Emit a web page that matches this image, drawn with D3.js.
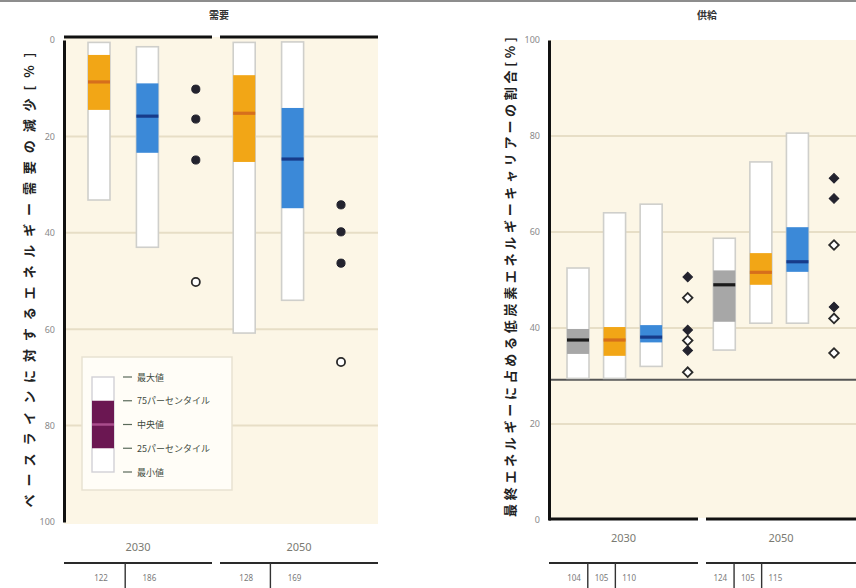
<!DOCTYPE html>
<html>
<head>
<meta charset="utf-8">
<script src="https://cdn.jsdelivr.net/npm/d3@7"></script>
<style>
  body { margin: 0; background: #ffffff; }
  svg { display: block; font-family: "Noto Sans CJK JP", "Noto Sans", sans-serif; }
</style>
</head>
<body>
<svg id="chart" width="856" height="588"></svg>
<script>
// ---- shared ----
const years = ["2030", "2050"];
const yTicks = [0, 20, 40, 60, 80, 100];
const legendLabels = ["最大値", "75パーセンタイル", "中央値", "25パーセンタイル", "最小値"];

// ---- demand panel: reduction relative to baseline [%] ----
const demandSeries = ["A", "B"];
const demandBoxYear = ["2030", "2030", "2050", "2050"];
const demandBoxSeries = ["A", "B", "A", "B"];
const demandMin = [0.5, 1.4, 0.5, 0.4];
const demandQ1 = [3.1, 9.0, 7.3, 14.1];
const demandMedian = [8.7, 15.8, 15.2, 24.7];
const demandQ3 = [14.5, 23.4, 25.3, 34.9];
const demandMax = [33.2, 43.0, 60.8, 54.0];
const demandN = ["122", "186", "128", "169"];
const demandPointYear = ["2030", "2030", "2030", "2030", "2050", "2050", "2050", "2050"];
const demandPointValue = [10.2, 16.4, 24.9, 50.2, 34.2, 39.8, 46.3, 66.8];
const demandPointFilled = [true, true, true, false, true, true, true, false];

// ---- supply panel: low-carbon carrier share of final energy [%] ----
const supplySeries = ["G", "A", "B"];
const supplyBoxYear = ["2030", "2030", "2030", "2050", "2050", "2050"];
const supplyBoxSeries = ["G", "A", "B", "G", "A", "B"];
const supplyMin = [29.5, 29.5, 32.0, 35.4, 41.0, 41.0];
const supplyQ1 = [34.6, 34.2, 37.0, 41.3, 49.0, 51.7];
const supplyMedian = [37.5, 37.5, 38.1, 49.0, 51.6, 53.8];
const supplyQ3 = [39.8, 40.2, 40.6, 52.0, 55.6, 61.0];
const supplyMax = [52.5, 64.0, 65.8, 58.7, 74.6, 80.6];
const supplyN = ["104", "105", "110", "124", "105", "115"];
const supplyPointYear = ["2030", "2030", "2030", "2030", "2030", "2030", "2050", "2050", "2050", "2050", "2050", "2050"];
const supplyPointValue = [50.6, 46.3, 39.6, 37.4, 35.3, 30.8, 71.2, 67.0, 57.3, 44.4, 42.0, 34.8];
const supplyPointFilled = [true, false, true, false, true, false, true, true, false, true, false, false];
const supplyReference = 29.2;

// ---- styles ----
const seriesFill = { A: "#f2a616", B: "#3b89d8", G: "#a7a7a7" };
const seriesMedian = { A: "#d66f1c", B: "#173b8a", G: "#1b1b1b" };
const plotBg = "#fcf6e6";
const gridColor = "#e7dec6";
const boxWidth = 22;

const svg = d3.select("#chart");

// thin frame line along the top of the page
svg.append("rect").attr("x", 0).attr("y", 0).attr("width", 856).attr("height", 2).attr("fill", "#8d8d8d");

function drawPanel(p) {
  const g = svg.append("g");
  const slots = [];
  years.forEach(yr => { p.series.forEach(s => slots.push(yr + "|" + s)); slots.push(yr + "|pts"); });
  const x = d3.scalePoint().domain(slots).range(p.slotRange);
  const y = d3.scaleLinear().domain([0, 100]).range(p.yRange);

  // background + grid
  g.append("rect").attr("x", p.left).attr("y", p.bgTop).attr("width", p.right - p.left)
    .attr("height", p.bgBottom - p.bgTop).attr("fill", plotBg);
  g.selectAll(".grid").data(yTicks.filter(t => t > 0 && t < 100)).join("line")
    .attr("x1", p.left).attr("x2", p.right).attr("y1", d => y(d)).attr("y2", d => y(d))
    .attr("stroke", gridColor).attr("stroke-width", 2);

  // year boundary between groups
  const gapX = (x(years[0] + "|pts") + x(years[1] + "|" + p.series[0])) / 2 - 4;
  const yearSpans = [[p.left, gapX - 4], [gapX + 4, p.right]];

  // reference line (supply panel)
  if (p.reference != null) {
    g.append("line").attr("x1", p.left).attr("x2", p.right)
      .attr("y1", y(p.reference)).attr("y2", y(p.reference))
      .attr("stroke", "#555").attr("stroke-width", 2);
  }

  // boxes
  const boxes = p.boxYear.map((yr, i) => ({
    key: yr + "|" + p.boxSeries[i], s: p.boxSeries[i],
    min: p.min[i], q1: p.q1[i], med: p.median[i], q3: p.q3[i], max: p.max[i]
  }));
  const bg = g.selectAll(".box").data(boxes).join("g");
  bg.append("rect")
    .attr("x", d => x(d.key) - boxWidth / 2).attr("width", boxWidth)
    .attr("y", d => Math.min(y(d.min), y(d.max))).attr("height", d => Math.abs(y(d.max) - y(d.min)))
    .attr("fill", "#ffffff").attr("stroke", "#cfcfcb").attr("stroke-width", 1.6);
  bg.append("rect")
    .attr("x", d => x(d.key) - boxWidth / 2).attr("width", boxWidth)
    .attr("y", d => Math.min(y(d.q1), y(d.q3))).attr("height", d => Math.abs(y(d.q3) - y(d.q1)))
    .attr("fill", d => seriesFill[d.s]);
  bg.append("line")
    .attr("x1", d => x(d.key) - boxWidth / 2).attr("x2", d => x(d.key) + boxWidth / 2)
    .attr("y1", d => y(d.med)).attr("y2", d => y(d.med))
    .attr("stroke", d => seriesMedian[d.s]).attr("stroke-width", 3.2);

  // individual study points
  const pts = p.pointYear.map((yr, i) => ({ key: yr + "|pts", v: p.pointValue[i], filled: p.pointFilled[i] }));
  const sym = d3.symbol().type(p.symbol).size(p.symbolSize);
  g.selectAll(".pt").data(pts).join("path")
    .attr("transform", d => `translate(${x(d.key)},${y(d.v)}) rotate(${p.symbolRotate})`)
    .attr("d", sym)
    .attr("fill", d => d.filled ? "#23232e" : "#ffffff")
    .attr("stroke", d => d.filled ? "#23232e" : "#2a2a2a")
    .attr("stroke-width", d => d.filled ? 1 : 1.8);

  // y axis
  const ax = g.append("g").attr("transform", `translate(${p.left},0)`)
    .call(d3.axisLeft(y).tickValues(yTicks).tickSize(0).tickPadding(9).tickSizeOuter(0));
  ax.select(".domain").attr("stroke", "#111").attr("stroke-width", 3);
  ax.selectAll("text").attr("fill", "#8a8a8a").attr("font-size", 9).attr("font-family", "Noto Sans, sans-serif");

  // year-segmented frame line (top for demand, bottom for supply)
  g.selectAll(".yrline").data(yearSpans).join("line")
    .attr("x1", d => d[0]).attr("x2", d => d[1])
    .attr("y1", p.frameY).attr("y2", p.frameY)
    .attr("stroke", "#111").attr("stroke-width", 3);

  // year labels
  g.selectAll(".yr").data(years).join("text")
    .attr("x", (d, i) => (yearSpans[i][0] + yearSpans[i][1]) / 2)
    .attr("y", p.yearLabelY).attr("text-anchor", "middle")
    .attr("fill", "#7a7a72").attr("font-size", 11).attr("font-family", "Noto Sans, sans-serif")
    .text(d => d);

  // scenario count row
  g.selectAll(".nline").data(yearSpans).join("line")
    .attr("x1", d => d[0]).attr("x2", d => d[1]).attr("y1", 563).attr("y2", 563)
    .attr("stroke", "#2a2a2a").attr("stroke-width", 2);
  g.selectAll(".n").data(boxes).join("text")
    .attr("x", d => x(d.key) + p.nShift[p.series.indexOf(d.s)]).attr("y", 581).attr("text-anchor", "middle")
    .attr("fill", "#7a7a7a").attr("font-size", 8).attr("font-family", "Noto Sans, sans-serif")
    .text((d, i) => p.n[i]);
  const seps = [];
  years.forEach(yr => {
    for (let k = 0; k < p.series.length - 1; k++) {
      const a = x(yr + "|" + p.series[k]) + p.nShift[k], b = x(yr + "|" + p.series[k + 1]) + p.nShift[k + 1];
      seps.push((a + b) / 2);
    }
  });
  g.selectAll(".sep").data(seps).join("line")
    .attr("x1", d => d).attr("x2", d => d).attr("y1", 563).attr("y2", 588)
    .attr("stroke", "#333").attr("stroke-width", 1.4);

  // titles
  g.append("text").attr("x", p.titleX).attr("y", 19).attr("text-anchor", "middle")
    .attr("font-size", 10).attr("font-weight", "bold").attr("fill", "#333").text(p.title);
  g.append("text")
    .attr("transform", `translate(${p.axisTitleX},${p.axisTitleY}) rotate(-90)`)
    .attr("text-anchor", "middle").attr("dominant-baseline", "central")
    .attr("font-size", 13).attr("font-weight", "bold").attr("fill", "#222")
    .attr("textLength", p.axisTitleLength).attr("lengthAdjust", "spacing")
    .text(p.axisTitle);

  return { x, y, g };
}

drawPanel({
  left: 64, right: 378, bgTop: 37, bgBottom: 524, yRange: [40, 522], slotRange: [99, 341],
  series: demandSeries, boxYear: demandBoxYear, boxSeries: demandBoxSeries,
  min: demandMin, q1: demandQ1, median: demandMedian, q3: demandQ3, max: demandMax, n: demandN,
  nShift: [2, 2],
  pointYear: demandPointYear, pointValue: demandPointValue, pointFilled: demandPointFilled,
  symbol: d3.symbolCircle, symbolSize: 52, symbolRotate: 0,
  frameY: 37, yearLabelY: 551,
  title: "需要", titleX: 219,
  axisTitle: "ベースラインに対するエネルギー需要の減少[%]", axisTitleX: 28, axisTitleY: 280, axisTitleLength: 455
});

drawPanel({
  left: 549, right: 856, bgTop: 40, bgBottom: 518, yRange: [520, 40], slotRange: [578, 834],
  series: supplySeries, boxYear: supplyBoxYear, boxSeries: supplyBoxSeries,
  min: supplyMin, q1: supplyQ1, median: supplyMedian, q3: supplyQ3, max: supplyMax, n: supplyN,
  nShift: [-4, -13, -22],
  pointYear: supplyPointYear, pointValue: supplyPointValue, pointFilled: supplyPointFilled,
  symbol: d3.symbolSquare, symbolSize: 46, symbolRotate: 45,
  reference: supplyReference,
  frameY: 519, yearLabelY: 542,
  title: "供給", titleX: 707,
  axisTitle: "最終エネルギーに占める低炭素エネルギーキャリアーの割合[%]", axisTitleX: 509, axisTitleY: 277, axisTitleLength: 480
});

// ---- legend (box-plot key) inside the demand panel ----
const lg = svg.append("g");
lg.append("rect").attr("x", 82).attr("y", 357).attr("width", 150).attr("height", 133)
  .attr("fill", "#fffdf7").attr("stroke", "#e8e2d2").attr("stroke-width", 1.5);
const ly = d3.scalePoint().domain(legendLabels).range([377, 472]);
const barX = 92, barW = 22;
lg.append("rect").attr("x", barX).attr("width", barW)
  .attr("y", ly(legendLabels[0])).attr("height", ly(legendLabels[4]) - ly(legendLabels[0]))
  .attr("fill", "#ffffff").attr("stroke", "#d2d0d6").attr("stroke-width", 1.4);
lg.append("rect").attr("x", barX).attr("width", barW)
  .attr("y", ly(legendLabels[1])).attr("height", ly(legendLabels[3]) - ly(legendLabels[1]))
  .attr("fill", "#6b1752");
lg.append("line").attr("x1", barX).attr("x2", barX + barW)
  .attr("y1", ly(legendLabels[2])).attr("y2", ly(legendLabels[2]))
  .attr("stroke", "#a94d8c").attr("stroke-width", 2.5);
lg.selectAll(".dash").data(legendLabels).join("line")
  .attr("x1", 123).attr("x2", 132).attr("y1", d => ly(d)).attr("y2", d => ly(d))
  .attr("stroke", "#5a6a5a").attr("stroke-width", 1.2);
lg.selectAll(".lt").data(legendLabels).join("text")
  .attr("x", 137).attr("y", d => ly(d)).attr("dominant-baseline", "central")
  .attr("font-size", 9).attr("fill", "#3e4a3e").text(d => d);
</script>
</body>
</html>
